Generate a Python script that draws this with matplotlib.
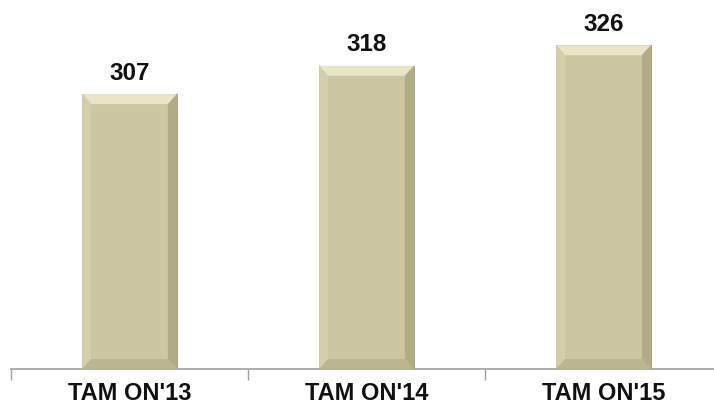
import matplotlib
matplotlib.use("Agg")
import matplotlib.pyplot as plt
from matplotlib.patches import Polygon

categories = ["TAM ON'13", "TAM ON'14", "TAM ON'15"]
values = [307, 318, 326]

plt.rcParams['font.family'] = ['Liberation Sans', 'DejaVu Sans']

fig = plt.figure(figsize=(7.14, 4.07), dpi=100)
ax = fig.add_axes([11 / 714, 38 / 407, 711 / 714, 369 / 407])

x = list(range(len(categories)))
bars = ax.bar(x, values, width=0.40, bottom=0, color="#ccc7a0",
              edgecolor="#9a9579", linewidth=0.6, zorder=3)
ax.set_xlim(-0.5, 2.5)
ax.set_ylim(200, 343.6)

# bevel edges, pixel widths turned into data units
ux = 3.0 / 711  # data units per px along x
uy = 143.6 / 369  # data units per px along y
bx = 9 * ux
by = 10 * uy
for b in bars:
    x0 = b.get_x()
    x1 = x0 + b.get_width()
    y0 = 200
    y1 = b.get_height()
    faces = [
        ([(x0, y1), (x1, y1), (x1 - bx, y1 - by), (x0 + bx, y1 - by)], "#e9e6c8"),
        ([(x0, y0), (x0, y1), (x0 + bx, y1 - by), (x0 + bx, y0 + by)], "#d4cfab"),
        ([(x1, y0), (x1, y1), (x1 - bx, y1 - by), (x1 - bx, y0 + by)], "#b1ab86"),
        ([(x0, y0), (x1, y0), (x1 - bx, y0 + by), (x0 + bx, y0 + by)], "#bbb590"),
    ]
    for pts, col in faces:
        ax.add_patch(Polygon(pts, closed=True, facecolor=col,
                             edgecolor="none", zorder=4))
    ax.text(b.get_x() + b.get_width() / 2, y1 + 21 * uy, str(y1),
            ha="center", va="center", fontsize=17.5, fontweight="bold",
            color="#111111", zorder=5)

for s in ["top", "right", "left"]:
    ax.spines[s].set_visible(False)
ax.spines["bottom"].set_color("#a0a0a0")
ax.spines["bottom"].set_linewidth(1.2)
ax.set_yticks([])
ax.set_xticks([-0.5, 0.5, 1.5, 2.5])
ax.set_xticklabels([])
ax.tick_params(axis="x", length=8, width=1, color="#a0a0a0", direction="out")
for i, c in enumerate(categories):
    ax.text(i, -25 / 369, c, transform=ax.get_xaxis_transform(),
            ha="center", va="center", fontsize=17, fontweight="bold",
            color="#111111")

fig.savefig("out.png", dpi=100)
